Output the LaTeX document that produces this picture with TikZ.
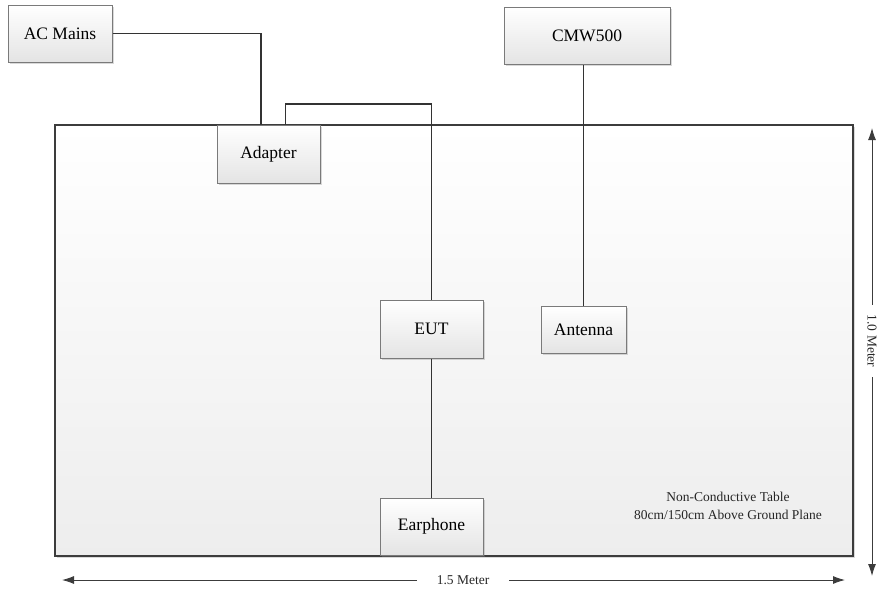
\documentclass[tikz,border=0pt]{standalone}
\usepackage{fontspec}
\setmainfont{Liberation Serif}
\usetikzlibrary{arrows.meta,shadows}
\definecolor{boxline}{HTML}{7A7A7A}
\definecolor{wireline}{HTML}{333333}
\definecolor{tableline}{HTML}{3C3C3C}
\definecolor{boxshade}{HTML}{E4E4E4}
\begin{document}
\begin{tikzpicture}[x=1pt,y=-1pt,
  main/.style = {draw=boxline, line width=1pt, top color=white, bottom color=boxshade, drop shadow={opacity=0.3, shadow xshift=1.5pt, shadow yshift=-1.5pt}, font=\fontsize{17.5}{20}\selectfont, inner sep=0pt},
  wire/.style = {draw=wireline, line width=1.1pt},
  dim/.style = {draw=tableline, line width=0.9pt, -{Latex[length=12pt,width=8pt]}},
  note/.style = {font=\fontsize{13.5}{18}\selectfont, align=center, text=black!85}]
\useasboundingbox (0,0) rectangle (877,592);
\draw[tableline, line width=2.2pt, top color=white, bottom color=black!7, drop shadow={opacity=0.3, shadow xshift=1.5pt, shadow yshift=-1.5pt}] (55,125) rectangle (853,556);

\node[main, minimum width=104pt, minimum height=57pt] (1) at (60,33.5) {AC Mains};
\node[main, minimum width=166pt, minimum height=57pt] (2) at (587,35.5) {CMW500};
\node[main, minimum width=103pt, minimum height=58pt] (3) at (268.5,154) {Adapter};
\node[main, minimum width=103pt, minimum height=58pt] (4) at (431.5,329) {EUT};
\node[main, minimum width=85pt, minimum height=47pt] (5) at (583.5,329.5) {Antenna};
\node[main, minimum width=103pt, minimum height=57pt] (6) at (431.5,526.5) {Earphone};
\coordinate (7) at (431.5,104);

\draw[wire] (1.east) -| ([xshift=-7.5pt]3.north);
\draw[wire] ([xshift=17pt]3.north) |- (7) -- (4.north);
\draw[wire] (5.north) -- (5.north |- 2.south);
\draw[wire] (4.south) -- (6.north);

\node[note] (8) at (728,506) {Non-Conductive Table\\80cm/150cm Above Ground Plane};

\node[note, inner xsep=20pt] (9) at (463,580) {1.5 Meter};
\coordinate (10) at (62,580);
\coordinate (11) at (845,580);
\draw[dim] (9.west) -- (10);
\draw[dim] (9.east) -- (11);

\node[note, rotate=-90, inner xsep=10pt] (12) at (872,341) {1.0 Meter};
\coordinate (13) at (872,128);
\coordinate (14) at (872,576);
\draw[dim] (12.west) -- (13);
\draw[dim] (12.east) -- (14);
\end{tikzpicture}
\end{document}
